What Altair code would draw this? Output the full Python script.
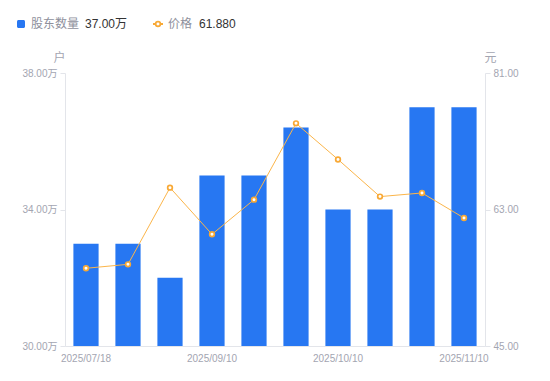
import altair as alt
import pandas as pd

dates = ["2025/07/18", "2025/07/31", "2025/08/20", "2025/09/10", "2025/09/19",
         "2025/09/30", "2025/10/10", "2025/10/20", "2025/10/31", "2025/11/10"]
shareholders = [33.0, 33.0, 32.0, 35.0, 35.0, 36.4, 34.0, 34.0, 37.0, 37.0]  # 万户
price = [55.25, 55.77, 65.88, 59.73, 64.30, 74.36, 69.60, 64.70, 65.18, 61.88]  # 元
shown_dates = ["2025/07/18", "2025/09/10", "2025/10/10", "2025/11/10"]
holder_base = 30.0

df = pd.DataFrame({"date": dates, "holders": shareholders, "price": price})

FONT = "Liberation Sans, Noto Sans CJK SC, sans-serif"
BLUE = "#2777F2"
ORANGE = "#F8A936"
LINE = "#FBB54A"
LABEL = "#A3A5B1"
AXIS = "#E3E5EA"

xenc = alt.X("date:N", sort=None,
             scale=alt.Scale(paddingInner=0.4, paddingOuter=0.2),
             axis=alt.Axis(title=None, values=shown_dates, labelAngle=0, ticks=False,
                           labelPadding=7, labelColor=LABEL, labelFontSize=10,
                           labelFont=FONT, domainColor=AXIS, labelOverlap=False))

bars = alt.Chart(df).mark_bar(color=BLUE).encode(
    x=xenc,
    y=alt.Y("holders:Q", scale=alt.Scale(domain=[30, 38], nice=False, zero=False),
            axis=alt.Axis(orient="left", values=[30, 34, 38], grid=False,
                          labelExpr="format(datum.value, '.2f') + '万'",
                          title="户", titleAngle=0, titleX=-6, titleY=-16,
                          titleAlign="center", titleBaseline="middle",
                          titleColor=LABEL, titleFontWeight="normal", titleFontSize=12,
                          titleFont=FONT, labelColor=LABEL, labelFontSize=10,
                          labelFont=FONT, tickSize=5, tickColor=AXIS, labelPadding=3,
                          domainColor=AXIS)),
    y2=alt.datum(holder_base),
)

line = alt.Chart(df).mark_line(color=LINE, strokeWidth=1).encode(
    x=alt.X("date:N", sort=None),
    y=alt.Y("price:Q", scale=alt.Scale(domain=[45, 81], nice=False, zero=False),
            axis=alt.Axis(orient="right", values=[45, 63, 81], grid=False, format=".2f",
                          title="元", titleAngle=0, titleX=5, titleY=-16,
                          titleAlign="center", titleBaseline="middle",
                          titleColor=LABEL, titleFontWeight="normal", titleFontSize=12,
                          titleFont=FONT, labelColor=LABEL, labelFontSize=10,
                          labelFont=FONT, tickSize=5, tickColor=AXIS, labelPadding=3,
                          domainColor=AXIS))
)
pts = alt.Chart(df).mark_point(filled=True, fill="white", stroke=ORANGE, strokeWidth=1.7,
                               size=22, opacity=1).encode(
    x=alt.X("date:N", sort=None),
    y=alt.Y("price:Q"),
)

one = pd.DataFrame({"a": [0]})
legend_sq = alt.Chart(one).mark_rect(color=BLUE, cornerRadius=1.5).encode(
    x=alt.value(-48), x2=alt.value(-40), y=alt.value(-53), y2=alt.value(-45))
legend_t1 = alt.Chart(one).mark_text(align="left", baseline="middle", font=FONT,
                                     fontSize=12, color="#8E909C").encode(
    x=alt.value(-34), y=alt.value(-49), text=alt.value("股东数量"))
legend_v1 = alt.Chart(one).mark_text(align="left", baseline="middle", font=FONT,
                                     fontSize=12, color="#333333").encode(
    x=alt.value(20), y=alt.value(-49), text=alt.value(f"{shareholders[-1]:.2f}万"))
legend_ln = alt.Chart(one).mark_rule(color=ORANGE, strokeWidth=2).encode(
    x=alt.value(88), x2=alt.value(98), y=alt.value(-49))
legend_pt = alt.Chart(one).mark_point(filled=True, fill="white", stroke=ORANGE,
                                      strokeWidth=1.7, size=22, opacity=1).encode(
    x=alt.value(93), y=alt.value(-49))
legend_t2 = alt.Chart(one).mark_text(align="left", baseline="middle", font=FONT,
                                     fontSize=12, color="#8E909C").encode(
    x=alt.value(103), y=alt.value(-49), text=alt.value("价格"))
legend_v2 = alt.Chart(one).mark_text(align="left", baseline="middle", font=FONT,
                                     fontSize=12, color="#333333").encode(
    x=alt.value(134), y=alt.value(-49), text=alt.value(f"{price[-1]:.3f}"))

chart = alt.layer(
    bars, alt.layer(line, pts),
    legend_sq, legend_t1, legend_v1, legend_ln, legend_pt, legend_t2, legend_v2
).resolve_scale(y="independent").properties(
    width=420, height=273,
    padding={"left": 57, "top": 65, "right": 50, "bottom": 20},
    autosize=alt.AutoSizeParams(type="none"),
).configure_view(stroke=None)

chart.save("out.html", embed_options={"renderer": "svg", "actions": False})
